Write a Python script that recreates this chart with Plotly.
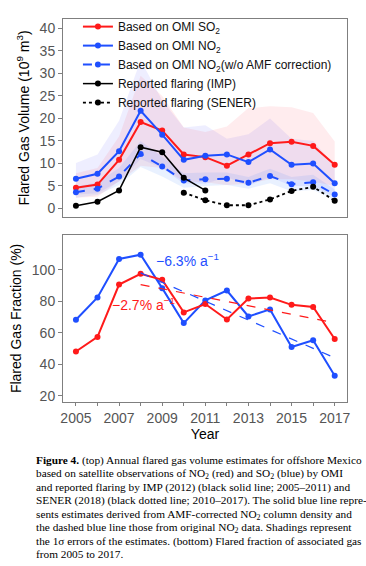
import plotly.graph_objects as go

# ---------------- data ----------------
years = [2005, 2006, 2007, 2008, 2009, 2010, 2011, 2012, 2013, 2014, 2015, 2016, 2017]

so2_volume = [4.6, 5.3, 10.8, 19.2, 17.3, 12.0, 11.4, 9.5, 12.0, 14.5, 14.8, 13.9, 9.7]
so2_upper = [7.8, 9.0, 16.0, 29.5, 25.0, 18.0, 17.0, 18.2, 22.3, 22.7, 22.5, 21.2, 14.9]
so2_lower = [2.4, 2.6, 6.0, 9.5, 9.0, 6.0, 5.8, 5.2, 5.5, 6.5, 6.5, 6.0, 5.0]

no2_volume = [6.6, 7.7, 12.7, 21.7, 16.4, 10.8, 11.7, 12.0, 10.3, 13.1, 9.7, 10.0, 5.6]
no2_upper = [10.1, 12.0, 19.5, 33.0, 24.0, 18.0, 18.5, 15.5, 16.5, 20.0, 15.5, 15.0, 9.5]
no2_lower = [3.1, 3.4, 6.0, 11.0, 9.0, 5.5, 5.5, 7.0, 5.0, 7.0, 5.0, 5.0, 2.5]

no2_noamf_volume = [3.6, 4.4, 7.1, 12.1, 9.3, 6.2, 6.5, 6.6, 5.7, 7.2, 5.4, 5.8, 3.1]
no2_noamf_upper = [4.8, 5.8, 9.0, 15.0, 11.5, 7.8, 8.0, 8.0, 7.0, 8.8, 7.0, 7.5, 4.2]
no2_noamf_lower = [2.4, 3.0, 5.2, 9.2, 7.1, 4.6, 5.0, 5.2, 4.4, 5.6, 3.8, 4.1, 2.0]

imp_years = [2005, 2006, 2007, 2008, 2009, 2010, 2011]
imp_volume = [0.6, 1.5, 4.0, 13.6, 12.5, 6.8, 4.0]

sener_years = [2010, 2011, 2012, 2013, 2014, 2015, 2016, 2017]
sener_volume = [3.5, 1.8, 0.7, 0.7, 2.0, 3.9, 4.8, 1.7]

no2_fraction = [68.3, 82.5, 107.0, 109.7, 88.4, 66.2, 80.6, 86.9, 70.4, 74.9, 51.0, 55.3, 32.7]
so2_fraction = [48.1, 57.4, 90.7, 97.5, 93.7, 73.0, 78.3, 68.5, 81.8, 82.5, 77.8, 76.4, 56.1]

trend_years = [2008, 2017]
so2_trend = [90.7, 66.4]
no2_trend = [98.1, 44.1]

x_tick_vals = years
x_tick_text = ["2005", "", "2007", "", "2009", "", "2011", "", "2013", "", "2015", "", "2017"]

caption_lines = [
    "<b>Figure 4.</b> (top) Annual flared gas volume estimates for offshore Mexico",
    "based on satellite observations of NO<sub>2</sub> (red) and SO<sub>2</sub> (blue) by OMI",
    "and reported flaring by IMP (2012) (black solid line; 2005\u20132011) and",
    "SENER (2018) (black dotted line; 2010\u20132017). The solid blue line repre-",
    "sents estimates derived from AMF-corrected NO<sub>2</sub> column density and",
    "the dashed blue line those from original NO<sub>2</sub> data. Shadings represent",
    "the 1\u03c3 errors of the estimates. (bottom) Flared fraction of associated gas",
    "from 2005 to 2017.",
]

# ---------------- styles ----------------
RED = "#FF1A1A"
BLUE = "#1F4FFF"
BLACK = "#000000"
FONT = "Liberation Sans"
FRAME = "#7F7F7F"
TICK_COLOR = "#555555"

W, H = 366, 566
ML, MR, MT, MB = 63, 19, 17, 164
PH = H - MT - MB
PW = W - ML - MR

fig = go.Figure()

def band(xs, lo, hi, color, xa="x", ya="y"):
    fig.add_trace(go.Scatter(
        x=list(xs) + list(xs)[::-1], y=list(hi) + list(lo)[::-1],
        fill="toself", fillcolor=color, line=dict(width=0), mode="lines",
        hoverinfo="skip", showlegend=False, xaxis=xa, yaxis=ya))

band(years, no2_lower, no2_upper, "rgba(60,60,255,0.085)")
band(years, so2_lower, so2_upper, "rgba(255,40,60,0.085)")
band(years, no2_noamf_lower, no2_noamf_upper, "rgba(40,120,255,0.10)")

fig.add_trace(go.Scatter(x=years, y=so2_volume, mode="lines+markers",
                         name="Based on OMI SO<sub>2</sub>",
                         line=dict(color=RED, width=2), marker=dict(size=6, color=RED)))
fig.add_trace(go.Scatter(x=years, y=no2_volume, mode="lines+markers",
                         name="Based on OMI NO<sub>2</sub>",
                         line=dict(color=BLUE, width=2), marker=dict(size=6, color=BLUE)))
fig.add_trace(go.Scatter(x=years, y=no2_noamf_volume, mode="lines+markers",
                         name="Based on OMI NO<sub>2</sub>(w/o AMF correction)",
                         line=dict(color=BLUE, width=2, dash="dash"), marker=dict(size=6, color=BLUE)))
fig.add_trace(go.Scatter(x=imp_years, y=imp_volume, mode="lines+markers",
                         name="Reported flaring (IMP)",
                         line=dict(color=BLACK, width=1.5), marker=dict(size=6, color=BLACK)))
fig.add_trace(go.Scatter(x=sener_years, y=sener_volume, mode="lines+markers",
                         name="Reported flaring (SENER)",
                         line=dict(color=BLACK, width=1.8, dash="dot"), marker=dict(size=6, color=BLACK)))

# bottom panel
fig.add_trace(go.Scatter(x=years, y=no2_fraction, mode="lines+markers", showlegend=False,
                         line=dict(color=BLUE, width=2), marker=dict(size=6, color=BLUE),
                         xaxis="x2", yaxis="y2"))
fig.add_trace(go.Scatter(x=years, y=so2_fraction, mode="lines+markers", showlegend=False,
                         line=dict(color=RED, width=2), marker=dict(size=6, color=RED),
                         xaxis="x2", yaxis="y2"))
fig.add_trace(go.Scatter(x=trend_years, y=so2_trend, mode="lines", showlegend=False,
                         line=dict(color=RED, width=1.2, dash="dash"),
                         xaxis="x2", yaxis="y2"))
fig.add_trace(go.Scatter(x=trend_years, y=no2_trend, mode="lines", showlegend=False,
                         line=dict(color=BLUE, width=1.2, dash="dash"),
                         xaxis="x2", yaxis="y2"))

axis_common = dict(showline=True, linecolor=FRAME, linewidth=1, mirror=True,
                   showgrid=False, zeroline=False,
                   tickfont=dict(family=FONT, size=14, color=TICK_COLOR))

fig.update_layout(
    width=W, height=H,
    margin=dict(l=ML, r=MR, t=MT, b=MB),
    paper_bgcolor="white", plot_bgcolor="white",
    font=dict(family=FONT, color="black"),
    xaxis=dict(domain=[0, 1], anchor="y", range=[2004.4, 2017.57],
               showticklabels=False, ticks="", **axis_common),
    yaxis=dict(domain=[0.4831, 1], anchor="x", range=[-1.9, 42.1],
               tickvals=[0, 5, 10, 15, 20, 25, 30, 35, 40],
               ticks="outside", ticklen=4, tickcolor=FRAME,
               title=dict(text="Flared Gas Volume (10<sup>9</sup> m<sup>3</sup>)",
                          font=dict(family=FONT, size=14, color="black"), standoff=6),
               **axis_common),
    xaxis2=dict(domain=[0, 1], anchor="y2", range=[2004.4, 2017.57],
                tickvals=x_tick_vals, ticktext=x_tick_text,
                ticks="outside", ticklen=3, tickcolor=FRAME,
                title=dict(text="Year", font=dict(family=FONT, size=14, color="black"), standoff=1),
                **axis_common),
    yaxis2=dict(domain=[0, 0.4364], anchor="x2", range=[16, 122.3],
                tickvals=[20, 40, 60, 80, 100],
                ticks="outside", ticklen=4, tickcolor=FRAME,
                title=dict(text="Flared Gas Fraction (%)",
                           font=dict(family=FONT, size=14, color="black"), standoff=6),
                **axis_common),
    legend=dict(x=0.0526, y=1.018, xanchor="left", yanchor="top",
                bgcolor="rgba(0,0,0,0)", font=dict(family=FONT, size=12, color="#111111"),
                tracegroupgap=0, itemwidth=30),
    showlegend=True,
)

fig.add_annotation(x=2008.62, y=106.5, xref="x2", yref="y2", xanchor="left", yanchor="middle",
                   text="\u22126.3% a<sup>\u22121</sup>", showarrow=False,
                   font=dict(family=FONT, size=14, color=BLUE))
fig.add_annotation(x=2006.58, y=78.5, xref="x2", yref="y2", xanchor="left", yanchor="middle",
                   text="\u22122.7% a<sup>\u22121</sup>", showarrow=False,
                   font=dict(family=FONT, size=14, color=RED))

cap_x = (33.7 - ML) / PW
for k, line in enumerate(caption_lines):
    top_px = 452.0 + 13.57 * k
    fig.add_annotation(x=cap_x, y=(H - MB - top_px) / PH, xref="paper", yref="paper",
                       xanchor="left", yanchor="top", align="left", showarrow=False,
                       text=line, font=dict(family="Liberation Serif", size=11.3, color="black"))

fig.write_html("out.html", config={"displayModeBar": False},
               post_script="document.body.style.margin='0';")
